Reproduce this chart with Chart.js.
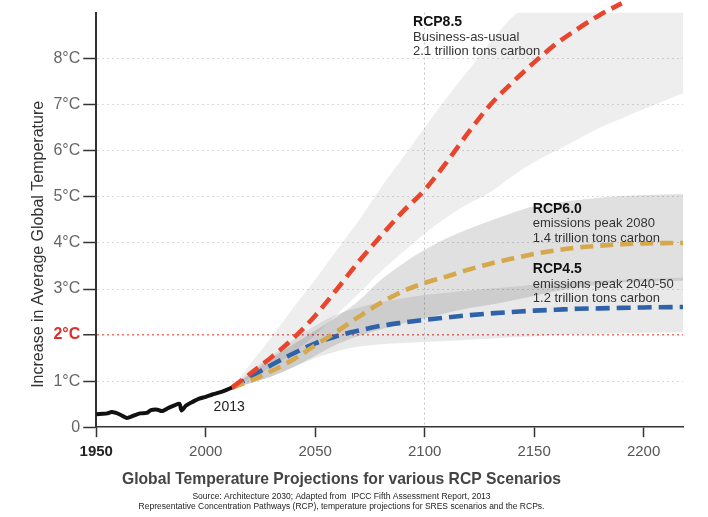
<!DOCTYPE html>
<html>
<head>
<meta charset="utf-8">
<script src="https://cdn.jsdelivr.net/npm/chart.js@4.4.1/dist/chart.umd.min.js"></script>
<style>
  body { margin: 0; background: #fff; }
  #wrap { width: 708px; height: 517px; }
</style>
</head>
<body>
<div id="wrap"><canvas id="chartT" width="708" height="517"></canvas></div>
<script>
// observed record up to 2013
const histYears = [1950,1953,1955,1957,1959,1961,1964,1967,1970,1973,1975,1978,1980,1983,1986,1988,1989,1991,1994,1997,2000,2003,2006,2009,2012];
const histTemp  = [0.28,0.29,0.30,0.33,0.31,0.27,0.20,0.25,0.30,0.31,0.37,0.38,0.35,0.42,0.48,0.51,0.36,0.47,0.55,0.62,0.66,0.71,0.75,0.80,0.86];

// projections
const projYears = [2012,2020,2030,2040,2050,2060,2070,2080,2090,2100,2110,2120,2130,2140,2150,2160,2170,2180,2190,2200,2218];
const rcp85 = [0.86,1.15,1.52,1.93,2.42,3.0,3.6,4.15,4.68,5.15,5.75,6.4,7.0,7.48,7.92,8.32,8.65,8.95,9.2,null,null];
const rcp60 = [0.86,1.0,1.22,1.47,1.78,2.08,2.4,2.7,2.95,3.13,3.27,3.42,3.55,3.66,3.76,3.84,3.9,3.94,3.97,3.99,4.0];
const rcp45 = [0.86,1.08,1.35,1.6,1.82,1.98,2.1,2.2,2.27,2.33,2.38,2.43,2.47,2.5,2.53,2.55,2.57,2.58,2.59,2.6,2.61];

// uncertainty ranges
const band85lo = [0.86,1.05,1.3,1.62,2.0,2.45,2.9,3.38,3.8,4.2,4.55,4.85,5.1,5.45,5.75,6.0,6.25,6.5,6.7,6.9,7.25];
const band85hi = [0.86,1.35,1.95,2.6,3.2,3.85,4.5,5.2,5.85,6.5,7.15,7.75,8.35,8.9,9.2,9.2,9.2,9.2,9.2,9.2,9.2];
const band60lo = [0.86,0.95,1.1,1.3,1.55,1.8,1.98,2.12,2.25,2.36,2.48,2.58,2.66,2.75,2.85,2.95,3.03,3.1,3.14,3.16,3.18];
const band60hi = [0.86,1.15,1.5,1.8,2.1,2.4,2.75,3.2,3.55,3.85,4.1,4.3,4.48,4.65,4.8,4.87,4.93,4.98,5.02,5.04,5.06];
const band45lo = [0.86,0.95,1.1,1.3,1.5,1.65,1.75,1.8,1.83,1.85,1.87,1.9,1.92,1.95,1.97,2.0,2.02,2.03,2.04,2.05,2.06];
const band45hi = [0.86,1.2,1.55,1.9,2.2,2.45,2.6,2.72,2.8,2.87,2.92,2.97,3.01,3.05,3.09,3.12,3.15,3.18,3.2,3.22,3.25];

const xTicksStep = 50;
const yMaxLabel = 8;

const sourceLines = [
  "Source: Architecture 2030; Adapted from  IPCC Fifth Assessment Report, 2013",
  "Representative Concentration Pathways (RCP), temperature projections for SRES scenarios and the RCPs."
];

// text notes, anchored at [year, temp]
const notes = [
  {x: 2094.7, y: 8.70, lines: ["RCP8.5", "Business-as-usual", "2.1 trillion tons carbon"]},
  {x: 2149.4, y: 4.66, lines: ["RCP6.0", "emissions peak 2080", "1.4 trillion tons carbon"]},
  {x: 2149.4, y: 3.34, lines: ["RCP4.5", "emissions peak 2040-50", "1.2 trillion tons carbon"]},
  {x: 2003.6, y: 0.35, lines: ["2013"], plain: true}
];

const FONT = "'Liberation Sans', Arial, sans-serif";

function pts(xs, ys){
    return xs.map((x, i) => ({x: x, y: ys[i]}));
}

function tv(c){
    return c.tick ? c.tick.value : null;
}

function band(lo, hi, color){
    return [
      {data: pts(projYears, lo), borderWidth: 0, pointRadius: 0, fill: false, order: 5, cubicInterpolationMode: 'monotone'},
      {data: pts(projYears, hi), borderWidth: 0, pointRadius: 0, fill: '-1', backgroundColor: color, order: 5, cubicInterpolationMode: 'monotone'}
    ];
}

function dashed(ys, color, dash){
    return {data: pts(projYears, ys), borderColor: color, borderWidth: 4.6, borderDash: dash,
            pointRadius: 0, fill: false, order: 0, cubicInterpolationMode: 'monotone',
            clip: {left: 0, top: 14, right: 0, bottom: 0}};
}

const notesPlugin = {
  id: 'notes',
  afterDraw(chart){
    const ctx = chart.ctx;
    const sx = chart.scales.x, sy = chart.scales.y;
    ctx.save();
    ctx.textAlign = 'left';
    ctx.textBaseline = 'alphabetic';
    notes.forEach(n => {
      const px = sx.getPixelForValue(n.x);
      let py = sy.getPixelForValue(n.y);
      n.lines.forEach((t, i) => {
        if (n.plain) { ctx.font = "14px " + FONT; ctx.fillStyle = '#222'; }
        else if (i === 0) { ctx.font = "bold 14px " + FONT; ctx.fillStyle = '#111'; }
        else { ctx.font = "13px " + FONT; ctx.fillStyle = '#333'; }
        ctx.fillText(t, px, py);
        py += 14.5;
      });
    });
    ctx.restore();
  }
};

const datasets = []
  .concat(band(band85lo, band85hi, 'rgba(0,0,0,0.065)'))
  .concat(band(band60lo, band60hi, 'rgba(0,0,0,0.12)'))
  .concat(band(band45lo, band45hi, 'rgba(0,0,0,0.085)'))
  .concat([
    {data: pts(histYears, histTemp), borderColor: '#111', borderWidth: 4, pointRadius: 0, fill: false, order: 0, tension: 0.2},
    dashed(rcp85, '#e8452c', [13, 7]),
    dashed(rcp60, '#d5a84c', [13, 7]),
    dashed(rcp45, '#2f62a8', [14, 7])
  ]);

const chartT = new Chart(document.getElementById('chartT'), {
  type: 'line',
  data: {datasets: datasets},
  plugins: [notesPlugin],
  options: {
    responsive: false,
    animation: false,
    layout: {padding: {left: 0, right: 25, top: 11, bottom: 0}},
    plugins: {
      legend: {display: false},
      tooltip: {enabled: false},
      title: {
        display: true, position: 'bottom', weight: 100,
        text: 'Global Temperature Projections for various RCP Scenarios',
        color: '#444', font: {family: FONT, size: 15.7, weight: 'bold', lineHeight: 1.15},
        padding: {top: 3, bottom: 3}
      },
      subtitle: {
        display: true, position: 'bottom', weight: 200,
        text: sourceLines,
        color: '#222', font: {family: FONT, size: 8.5, lineHeight: 1.22},
        padding: {top: 0, bottom: 5}
      }
    },
    scales: {
      x: {
        type: 'linear', min: 1950, max: 2218,
        ticks: {
          stepSize: xTicksStep, includeBounds: false, padding: 6,
          callback: v => String(v),
          color: c => tv(c) === 1950 ? '#222' : '#555',
          font: c => ({family: FONT, size: 15, weight: tv(c) === 1950 ? 'bold' : 'normal'})
        },
        grid: {
          color: c => tv(c) === 2100 ? '#c4c4c4' : 'transparent',
          tickColor: '#333', tickLength: 10, tickWidth: 1.5, lineWidth: 1
        },
        border: {color: '#333', width: 1.5, dash: [2, 3]}
      },
      y: {
        min: 0, max: 9,
        afterBuildTicks: s => { s.ticks = s.ticks.filter(t => t.value <= yMaxLabel); },
        title: {
          display: true, text: 'Increase in Average Global Temperature           ',
          color: '#333', font: {family: FONT, size: 16, lineHeight: 1.15}, padding: {top: 29, bottom: 3}
        },
        ticks: {
          stepSize: 1, padding: 3,
          callback: v => v === 0 ? '0' : v + '°C',
          color: c => tv(c) === 2 ? '#d9302c' : '#666',
          font: c => ({family: FONT, size: 16, weight: tv(c) === 2 ? 'bold' : 'normal'})
        },
        grid: {
          color: c => {
            const v = tv(c);
            if (v === null || v === 0) return 'transparent';
            return v === 2 ? '#f0706a' : '#dadada';
          },
          lineWidth: c => tv(c) === 2 ? 1.5 : 1,
          tickColor: '#333', tickLength: 13, tickWidth: 1.5
        },
        border: {color: '#333', width: 2, dash: [2, 3]}
      }
    }
  }
});
</script>
</body>
</html>
